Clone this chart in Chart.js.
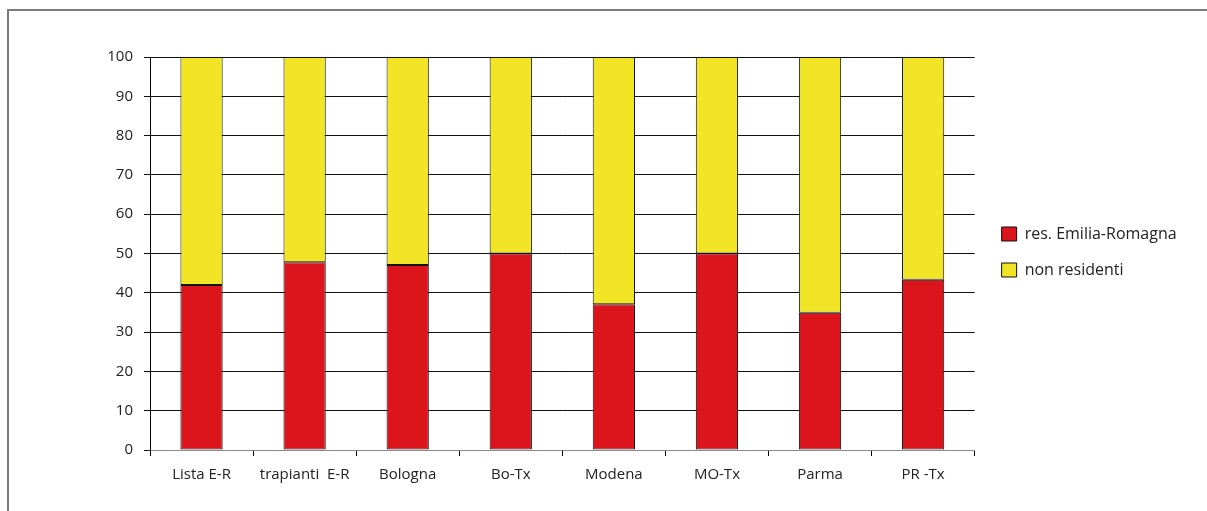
<!DOCTYPE html>
<html>
<head>
<meta charset="utf-8">
<script src="https://cdn.jsdelivr.net/npm/chart.js@4/dist/chart.umd.min.js"></script>
<style>
  html, body { margin: 0; padding: 0; background: #fff; }
  #wrap { position: relative; width: 1207px; height: 511px; overflow: hidden; }
  #frame { position: absolute; left: 7px; top: 9px; width: 1300px; height: 600px;
           border-left: 2px solid #7a7a7a; border-top: 2px solid #7a7a7a; }
  canvas { position: absolute; left: 0; top: 0; }
</style>
</head>
<body>
<div id="wrap">
  <div id="frame"></div>
  <canvas id="c" width="1207" height="511"></canvas>
</div>
<script>
const categories = ['Lista E-R', 'trapianti  E-R', 'Bologna', 'Bo-Tx', 'Modena', 'MO-Tx', 'Parma', 'PR -Tx'];
const residentiER = [42, 47.8, 47.1, 50, 37.1, 50, 34.9, 43.3];
const nonResidenti = [58, 52.2, 52.9, 50, 62.9, 50, 65.1, 56.7];
const seriesNames = ['res. Emilia-Romagna', 'non residenti'];
const yTicks = [0, 10, 20, 30, 40, 50, 60, 70, 80, 90, 100];

const FONT = { family: '"Open Sans", "DejaVu Sans", sans-serif', size: 15 };
const LEG_FONT = { family: '"Open Sans", "DejaVu Sans", sans-serif', size: 16 };
const LEG_PAD = 20;
const BOX_W = 15;
const RIGHT_GAP = 1000 - LEG_PAD - 973;

const mctx = document.createElement('canvas').getContext('2d');
mctx.font = LEG_FONT.size + 'px ' + LEG_FONT.family;
const maxText = Math.max(...seriesNames.map(s => mctx.measureText(s).width));
const legendW = LEG_PAD + BOX_W + LEG_FONT.size / 2 + maxText + 10;
const padRight = Math.max(0, 1207 - 973 - RIGHT_GAP - legendW + 7);

new Chart(document.getElementById('c'), {
  type: 'bar',
  data: {
    labels: categories,
    datasets: [
      { label: seriesNames[0], data: residentiER, xAxisID: 'x', yAxisID: 'y', backgroundColor: '#DC141C', borderColor: '#111', borderWidth: 1, borderSkipped: false },
      { label: seriesNames[1], data: nonResidenti, xAxisID: 'x', yAxisID: 'y', backgroundColor: '#F2E526', borderColor: '#111', borderWidth: 1, borderSkipped: false }
    ]
  },
  options: {
    responsive: false,
    animation: false,
    devicePixelRatio: 1,
    layout: { padding: { left: 0, top: 0, right: padRight, bottom: 7 } },
    datasets: { bar: { barPercentage: 0.41, categoryPercentage: 1 } },
    plugins: {
      legend: {
        position: 'right',
        align: 'center',
        labels: {
          font: LEG_FONT, color: '#222', boxWidth: BOX_W, boxHeight: 14, padding: LEG_PAD
        }
      },
      tooltip: { enabled: false }
    },
    scales: {
      x: {
        stacked: true,
        grid: { display: true, drawOnChartArea: false, color: '#000', tickLength: 6, offset: true },
        border: { color: '#8a8a8a', width: 1 },
        ticks: { font: FONT, color: '#222', padding: 10, maxRotation: 0, autoSkip: false },
        afterFit: s => { s.height = 54; }
      },
      y: {
        stacked: true,
        min: 0, max: 100,
        afterBuildTicks: s => { s.ticks = yTicks.map(v => ({ value: v })); },
        grid: { color: '#111', lineWidth: 1, tickLength: 6 },
        border: { color: '#000', width: 1 },
        ticks: { font: FONT, color: '#222', padding: 11 },
        afterFit: s => { s.width = 150; }
      },
      xTop: {
        position: 'top',
        type: 'category',
        display: true,
        grid: { display: false, drawTicks: false },
        border: { display: false },
        ticks: { display: false },
        afterFit: s => { s.height = 57; }
      },
      y2: {
        position: 'right',
        type: 'linear',
        display: true,
        grid: { display: false, drawTicks: false },
        border: { display: false },
        ticks: { display: false },
        afterFit: s => { s.width = RIGHT_GAP; }
      }
    }
  }
});
</script>
</body>
</html>
